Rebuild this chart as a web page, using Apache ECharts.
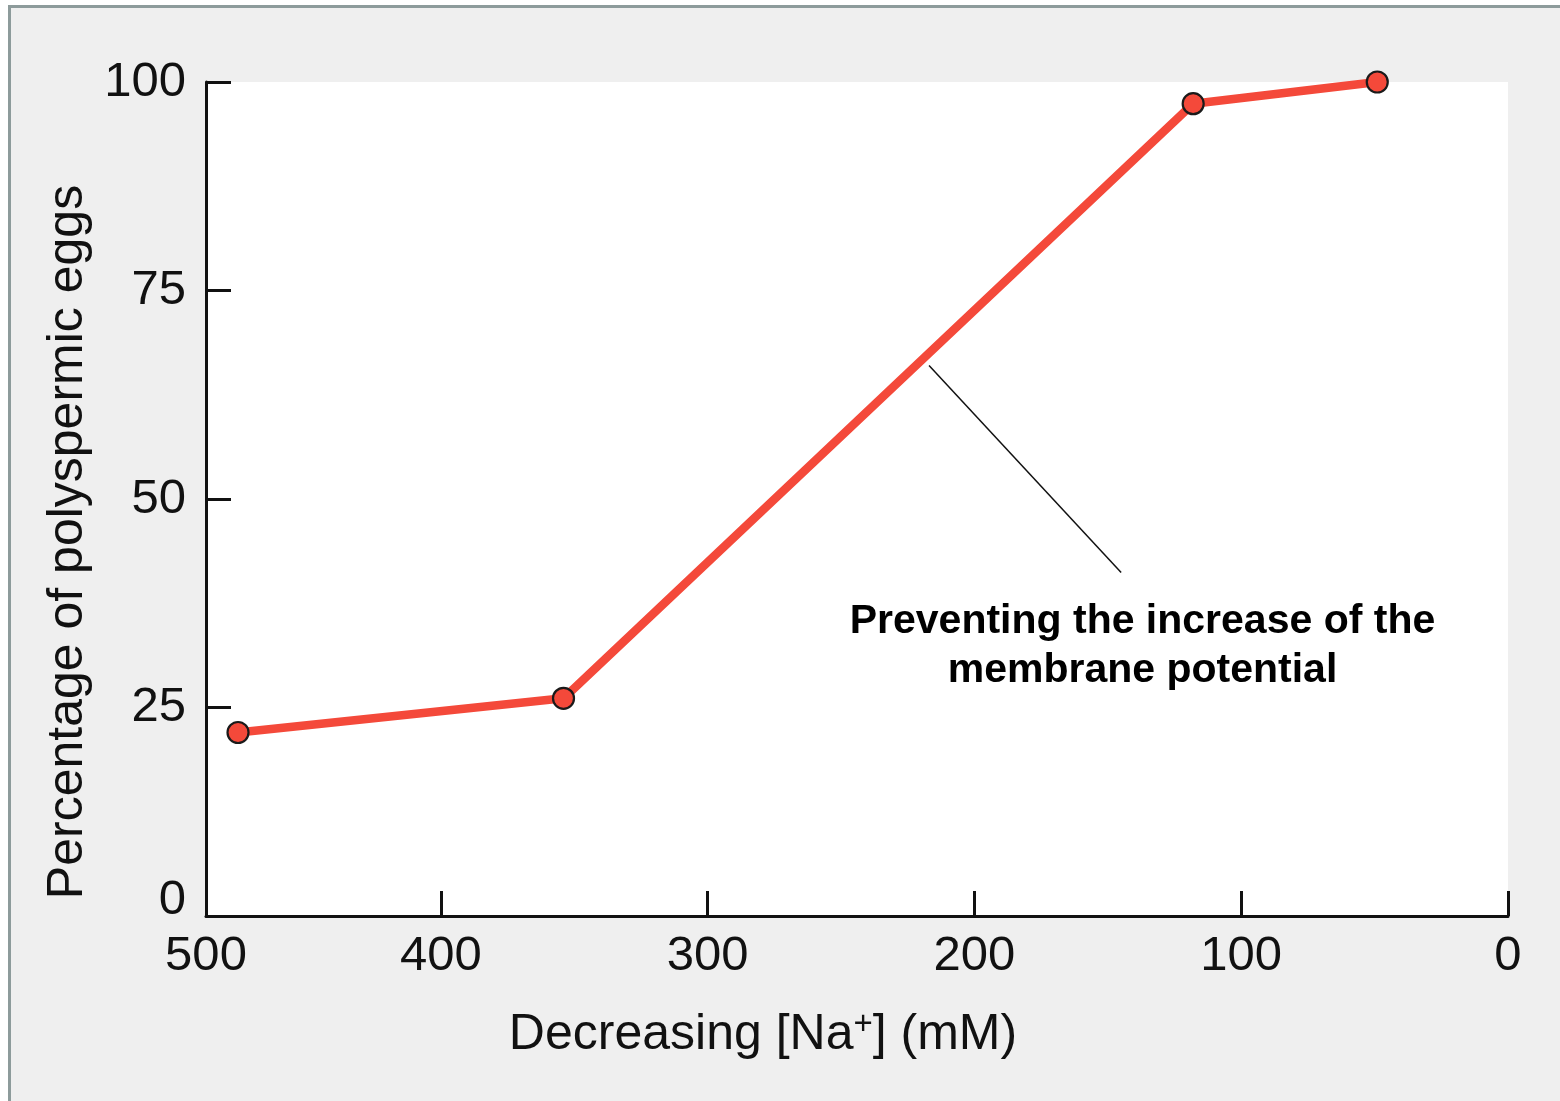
<!DOCTYPE html>
<html>
<head>
<meta charset="utf-8">
<title>Polyspermy vs sodium concentration</title>
<script src="https://cdn.jsdelivr.net/npm/echarts@6/dist/echarts.min.js"></script>
<style>
  html, body { margin: 0; padding: 0; background: #ffffff; }
  #wrap { position: relative; width: 1560px; height: 1101px; overflow: hidden; }
  #frame {
    position: absolute; left: 8px; top: 5px; right: -10px; bottom: -10px;
    background: #efefef;
    border-left: 3px solid #8d9b9b;
    border-top: 3px solid #8d9b9b;
  }
  #chart { position: absolute; left: 0; top: 0; width: 1560px; height: 1101px; }
</style>
</head>
<body>
<div id="wrap">
  <div id="frame"></div>
  <div id="chart"></div>
</div>
<script>
// Sodium concentration in sea water (mM), plotted high → low
const naConc = [476, 354, 118, 49];
// Share of eggs fertilised by more than one sperm (%)
const polyspermy = [22, 26.1, 97.4, 100];

// Axis ranges; the x axis runs from its left edge (labelled 500) down to 0
const xMin = 0, xMax = 488, xStep = 100, xEdgeLabel = '500';
const yMin = 0, yMax = 100, yStep = 25;

// Callout explaining the steep part of the curve (data coordinates)
const noteLines = ['Preventing the increase of the', 'membrane potential'];
const noteLeaderFrom = [217, 66];
const noteLeaderTo = [145, 41.2];
const noteAnchor = [137, 32.4];

const FONT = '"Liberation Sans", Arial, Helvetica, sans-serif';
const INK = '#111111';
const RED = '#f4493a';

const chart = echarts.init(document.getElementById('chart'), null, { renderer: 'canvas' });

const option = {
  backgroundColor: 'transparent',
  animation: false,
  grid: {
    left: 206, right: 52, top: 82, bottom: 185,
    show: true, backgroundColor: '#ffffff', borderWidth: 0
  },
  xAxis: {
    type: 'value',
    inverse: true,
    min: xMin, max: xMax, interval: xStep,
    name: 'Decreasing [Na{sup|+}] (mM)',
    nameLocation: 'middle',
    nameGap: 92,
    nameTextStyle: {
      fontFamily: FONT, fontSize: 50, color: INK,
      padding: [0, 188, 0, 0],
      rich: {
        sup: { fontFamily: FONT, fontSize: 33, color: INK, padding: [0, 0, 22, 0] }
      }
    },
    axisLine: { show: true, onZero: false, lineStyle: { color: INK, width: 3 } },
    axisTick: { show: true, inside: true, length: 25, lineStyle: { color: INK, width: 3 } },
    axisLabel: {
      fontFamily: FONT, fontSize: 49, color: INK, margin: 16,
      showMaxLabel: true,
      formatter: v => (v >= xMax ? xEdgeLabel : String(v))
    },
    splitLine: { show: false }
  },
  yAxis: {
    type: 'value',
    position: 'left',
    min: yMin, max: yMax, interval: yStep,
    name: 'Percentage of polyspermic eggs',
    nameLocation: 'middle',
    nameGap: 103,
    nameRotate: 90,
    nameTextStyle: {
      fontFamily: FONT, fontSize: 50, color: INK,
      padding: [0, 86, 0, 0]
    },
    axisLine: { show: true, onZero: false, lineStyle: { color: INK, width: 3 } },
    axisTick: { show: true, inside: true, length: 25, lineStyle: { color: INK, width: 3 } },
    axisLabel: {
      fontFamily: FONT, fontSize: 49, color: INK, margin: 20,
      formatter: v => (v === 0 ? '{zero|0}' : String(v)),
      rich: {
        zero: { fontFamily: FONT, fontSize: 49, color: INK, padding: [0, 0, 32, 0] }
      }
    },
    splitLine: { show: false }
  },
  series: [{
    type: 'line',
    data: naConc.map((x, i) => [x, polyspermy[i]]),
    symbol: 'circle',
    symbolSize: 21,
    lineStyle: { color: RED, width: 8.5 },
    itemStyle: { color: RED, borderColor: '#1a1a1a', borderWidth: 2.2 },
    z: 3,
    markLine: {
      silent: true,
      symbol: ['none', 'none'],
      label: { show: false },
      lineStyle: { color: INK, width: 1.5, type: 'solid' },
      data: [[{ coord: noteLeaderFrom }, { coord: noteLeaderTo }]]
    }
  }]
};

chart.setOption(option);

// Place the callout text at its anchor point
const p = chart.convertToPixel({ gridIndex: 0 }, noteAnchor);
chart.setOption({
  graphic: [{
    type: 'text',
    x: p[0], y: p[1],
    style: {
      text: noteLines.join('\n'),
      fontFamily: FONT,
      fontWeight: 'bold',
      fontSize: 41,
      lineHeight: 49,
      fill: '#000000',
      align: 'center',
      verticalAlign: 'middle'
    },
    z: 10
  }]
});
</script>
</body>
</html>
